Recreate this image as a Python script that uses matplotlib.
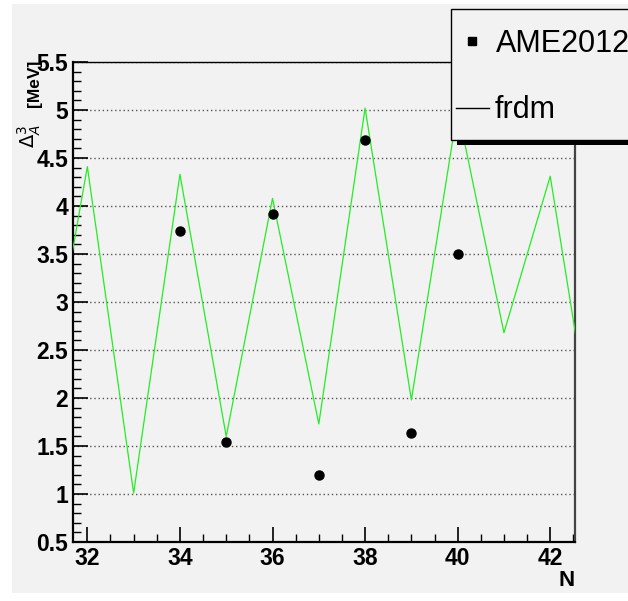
import numpy as np
import matplotlib.pyplot as plt
from matplotlib.patches import Rectangle
from matplotlib.lines import Line2D
from matplotlib.ticker import MultipleLocator

# frdm prediction (line) and AME2012 values (points)
n_frdm = [31, 32, 33, 34, 35, 36, 37, 38, 39, 40, 41, 42, 43]
d3_frdm = [1.66, 4.41, 1.01, 4.33, 1.60, 4.08, 1.73, 5.02, 1.98, 5.01, 2.68, 4.31, 1.30]
n_ame = [34, 35, 36, 37, 38, 39, 40]
d3_ame = [3.74, 1.54, 3.92, 1.20, 4.69, 1.64, 3.50]

W, H = 628, 601
bg = '#f2f2f2'
narrow = ['Liberation Sans Narrow', 'Liberation Sans']

def px(x, y):
    return x / W, 1 - y / H

fig = plt.figure(figsize=(W / 100, H / 100), dpi=100)
fig.patch.set_facecolor('white')
# grey canvas area
fig.patches.append(Rectangle((12 / W, 1 - 593 / H), 1, (593 - 4) / H,
                             transform=fig.transFigure, facecolor=bg,
                             edgecolor='none', zorder=-1))

ax = fig.add_axes([73 / W, 1 - 542 / H, (575 - 73) / W, (542 - 62) / H])
ax.set_zorder(1)
ax.set_facecolor(bg)

ax.plot(n_frdm, d3_frdm, color='#22ee22', lw=0.9, zorder=3)
ax.plot(n_ame, d3_ame, 'o', color='black', ms=6.5, zorder=4)

ax.set_xlim(31.69, 42.535)
ax.set_ylim(0.5, 5.5)
ax.xaxis.set_major_locator(MultipleLocator(2))
ax.xaxis.set_minor_locator(MultipleLocator(0.5))
ax.yaxis.set_major_locator(MultipleLocator(0.5))
ax.yaxis.set_minor_locator(MultipleLocator(0.1))
ax.yaxis.set_major_formatter(plt.FuncFormatter(lambda v, p: f'{v:g}'))
ax.tick_params(which='major', direction='in', length=11, width=1.2,
               labelsize=16.5, top=False, right=False, pad=3.5)
ax.tick_params(which='minor', direction='in', length=5.5, width=1.0,
               top=False, right=False)
for lab in ax.get_xticklabels() + ax.get_yticklabels():
    lab.set_fontweight('bold')
    lab.set_family(narrow)

ax.grid(axis='y', which='major', color='#555555', linestyle=(0, (1, 2)), lw=1)
ax.set_axisbelow(True)

for s in ['left', 'bottom']:
    ax.spines[s].set_linewidth(1.6)
ax.spines['top'].set_linewidth(1.0)
ax.spines['right'].set_linewidth(1.6)
ax.spines['right'].set_color('#444444')

# y title: symbol and unit, ROOT-like spacing
tx, ty = px(42, 60)
fig.text(tx, ty, '[MeV]', rotation=90, ha='right', va='top', fontsize=12.5,
         fontweight='bold', family=narrow, zorder=8)
tx, ty = px(43, 124)
fig.text(tx, ty, r'$\Delta_{A}^{3}$', rotation=90, ha='right', va='top',
         fontsize=14, zorder=8)

ax.set_xlabel('N', loc='right', fontsize=16, fontweight='bold', family=narrow)
ax.xaxis.set_label_coords(1.0, -0.058)

# legend box (runs off the right edge of the canvas)
x0, y0 = px(457, 145)
fig.patches.append(Rectangle((x0, y0), 0.5, 100 / H, transform=fig.transFigure,
                             facecolor='black', edgecolor='none', zorder=5))
x0, y0 = px(450.7, 140)
fig.patches.append(Rectangle((x0, y0), 0.5, (140 - 9) / H, transform=fig.transFigure,
                             facecolor=bg, edgecolor='black', lw=1.0, zorder=6))
mx, my = px(472, 41)
fig.add_artist(Line2D([mx], [my], marker='s', color='black', ms=5.5,
                      transform=fig.transFigure, zorder=7))
lx1, ly = px(456, 107.5)
lx2, _ = px(489, 107.5)
fig.add_artist(Line2D([lx1, lx2], [ly, ly], color='black', lw=1.0,
                      transform=fig.transFigure, zorder=7))
tx, ty = px(496, 44)
fig.text(tx, ty, 'AME2012', fontsize=22, va='center', ha='left',
         family='Liberation Sans', zorder=7)
tx, ty = px(495, 110)
fig.text(tx, ty, 'frdm', fontsize=22, va='center', ha='left',
         family='Liberation Sans', zorder=7)

fig.savefig('out.png', dpi=100, facecolor=fig.get_facecolor())
